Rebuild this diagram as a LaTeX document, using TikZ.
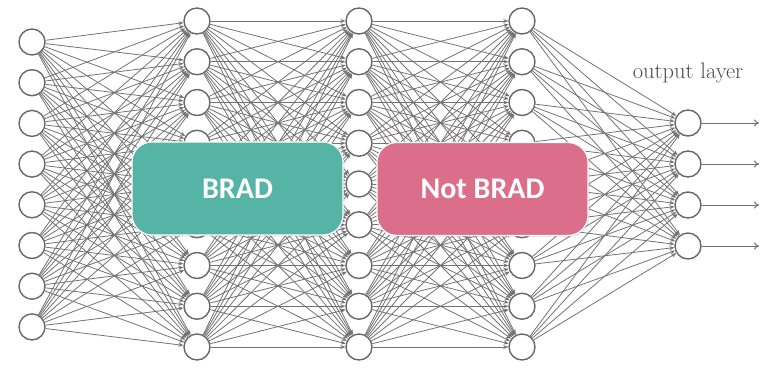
\documentclass[tikz,border=0pt]{standalone}
\usepackage{fontspec}
\newfontfamily\boxfont{Carlito}
\usetikzlibrary{arrows.meta,shadows}
\definecolor{bradteal}{RGB}{86,180,166}
\definecolor{bradpink}{RGB}{219,110,138}
\definecolor{edgegray}{RGB}{115,115,115}
\definecolor{nodegray}{RGB}{105,105,105}
\begin{document}
\begin{tikzpicture}[x=1pt,y=-1pt,
  neuron/.style={circle,draw=nodegray,fill=white,minimum size=26pt,inner sep=0pt,line width=1.4pt},
  conn/.style={draw=edgegray,line width=0.8pt,-{Stealth[length=5pt,width=4pt]}},
  outarrow/.style={draw=edgegray,line width=1pt,-{To[length=5pt,width=7pt]}},
  labelbox/.style={rounded corners=20pt,draw=white,line width=1.2pt,minimum width=211pt,minimum height=93pt,
    text=white,font=\boxfont\bfseries\fontsize{30}{34}\selectfont,
    drop shadow={opacity=0.2,shadow xshift=1.5pt,shadow yshift=-1.5pt}},
  layertext/.style={font=\fontsize{22.5}{26}\selectfont,text=black!70}
]
\useasboundingbox (0,0) rectangle (770,369);
\fill[white] (0,0) rectangle (770,369);
% layers
\foreach \k in {1,...,8} \node[neuron] (i\k) at (32,{42+(\k-1)*40.7}) {};
\foreach \k in {1,...,9} {
  \node[neuron] (a\k) at (197,{21+(\k-1)*40.75}) {};
  \node[neuron] (b\k) at (359,{21+(\k-1)*40.75}) {};
  \node[neuron] (c\k) at (522,{21+(\k-1)*40.75}) {};
}
\foreach \k in {1,...,4} \node[neuron] (o\k) at (688,{123+(\k-1)*41}) {};
% connections
\foreach \p in {1,...,8} \foreach \q in {1,...,9} \draw[conn] (i\p) -- (a\q);
\foreach \p in {1,...,9} \foreach \q in {1,...,9} \draw[conn] (a\p) -- (b\q);
\foreach \p in {1,...,9} \foreach \q in {1,...,9} \draw[conn] (b\p) -- (c\q);
\foreach \p in {1,...,9} \foreach \q in {1,...,4} \draw[conn] (c\p) -- (o\q);
% outputs
\foreach \k in {1,...,4} {
  \coordinate (e\k) at (759,{123+(\k-1)*41});
  \draw[outarrow] (o\k) -- (e\k);
}
\node[layertext] (ol) at (688,73) {output layer};
% label boxes
\node[labelbox,fill=bradteal] (brad) at (237.5,188.5) {BRAD};
\node[labelbox,fill=bradpink] (notbrad) at (482.5,189) {Not BRAD};
\end{tikzpicture}
\end{document}
